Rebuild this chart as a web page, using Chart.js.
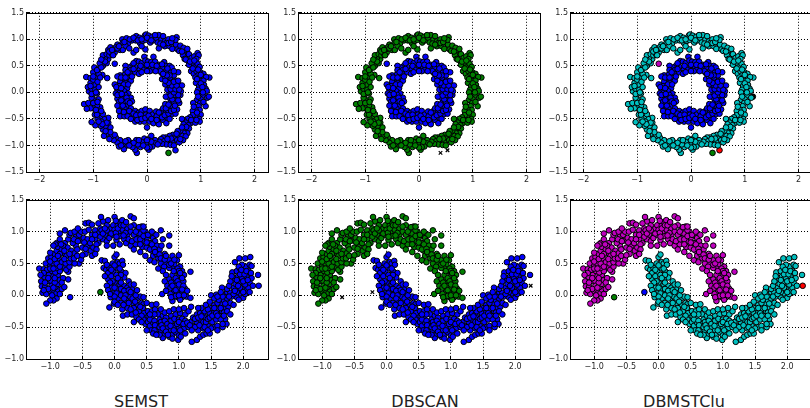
<!DOCTYPE html>
<html><head><meta charset="utf-8">
<script src="https://cdn.jsdelivr.net/npm/chart.js@4"></script>
<style>
html,body{margin:0;padding:0;background:#fff;width:810px;height:408px;overflow:hidden}
canvas{position:absolute}
.t{position:absolute;top:392px;font:16px/19px "DejaVu Sans",sans-serif;color:#222;transform:translateX(-50%);white-space:nowrap}
</style></head><body>
<div class="t" style="left:141px">SEMST</div>
<div class="t" style="left:425px">DBSCAN</div>
<div class="t" style="left:684px">DBMSTClu</div>
<script>
const ringOuter=[[-0.46,1.0],[-0.45,0.94],[-0.38,1.02],[-0.35,0.93],[-0.28,0.98],[-0.2,1.06],[-0.21,0.98],[-0.14,1.03],[-0.13,0.93],[-0.08,0.97],[-0.04,1.07],[-0.02,1.09],[-0.03,0.99],[0.03,1.07],[0.05,1.0],[0.06,0.94],[0.1,1.05],[0.12,0.98],[0.17,1.03],[0.2,0.94],[0.22,1.08],[0.27,1.0],[0.3,1.06],[0.33,0.96],[0.33,0.87],[0.36,0.93],[0.4,1.0],[0.42,0.87],[0.47,0.82],[0.5,0.95],[0.55,1.04],[0.54,0.9],[0.57,0.81],[0.53,0.99],[-0.25,0.75],[-0.2,0.8],[-0.03,0.81],[-0.1,0.87],[0.22,0.83],
[0.62,0.88],[0.68,0.84],[0.7,0.76],[0.72,0.7],[0.75,0.82],[0.78,0.72],[0.67,0.7],[0.7,0.63],[0.76,0.6],[0.83,0.65],[0.88,0.68],[0.94,0.74],[0.96,0.7],[0.92,0.63],[0.85,0.55],[0.78,0.52],[0.88,0.47],[0.94,0.54],[0.98,0.48],[0.82,0.4],[0.87,0.35],[0.92,0.4],[0.99,0.38],[1.05,0.35],[0.95,0.32],[0.9,0.28],[1.03,0.28],[1.16,0.28],[1.1,0.29],[0.98,0.22],[0.91,0.18],[0.97,0.12],[1.05,0.22],[1.06,0.14],[1.09,0.07],[1.11,0.03],[1.02,0.05],[0.95,0.05],[0.99,-0.02],[1.05,-0.05],[1.12,-0.1],
[0.93,-0.14],[1.0,-0.13],[0.99,-0.2],[0.96,-0.26],[1.09,-0.26],[0.86,-0.2],[0.98,-0.33],[0.9,-0.32],[0.85,-0.35],[1.0,-0.42],[0.92,-0.45],[0.85,-0.43],[0.97,-0.5],[0.88,-0.53],[0.8,-0.47],[0.75,-0.5],[0.68,-0.52],[0.65,-0.5],[0.98,-0.55],[0.72,-0.57],[0.81,-0.58],[0.9,-0.57],[0.77,-0.62],[0.68,-0.6],[0.7,-0.68],[0.78,-0.68],[0.75,-0.77],[0.68,-0.76],[0.62,-0.72],[0.57,-0.73],[0.54,-0.79],[0.6,-0.83],[0.66,-0.82],[0.72,-0.83],[0.48,-0.8],[0.42,-0.82],[0.5,-0.87],[0.56,-0.9],[0.67,-0.9],[0.6,-0.94],[0.35,-0.85],[0.3,-0.85],[0.26,-0.88],[0.32,-0.92],[0.4,-0.9],[0.47,-0.94],[0.36,-0.98],[0.28,-0.97],[0.23,-0.93],[0.44,-0.99],[0.5,-1.0],[0.15,-0.9],[0.08,-0.82],[0.15,-0.96],[0.1,-1.02],[0.03,-0.9],[-0.02,-0.97],[0.03,-1.08],[0.05,-1.03],[0,-1.04],[-0.05,-0.87],[-0.1,-0.93],[-0.12,-1.03],[-0.17,-0.98],[-0.2,-0.9],[-0.19,-1.14],[-0.22,-1.08],[-0.27,-1.03],[-0.3,-0.95],[-0.35,-0.9],[-0.38,-1.0],[-0.43,-1.07],[-0.45,-0.97],[-0.5,-0.9],[-0.55,-0.95],[-0.52,-1.02],[-0.58,-0.85],[-0.62,-0.9],[-0.65,-0.82],[-0.7,-0.88],[-0.75,-0.78],[-0.8,-0.82],[-0.82,-0.7],[-0.72,-0.72],[-0.68,-0.66],[-0.77,-0.63],[-0.86,-0.63],[-0.72,-0.57],[-0.72,-0.48],[-0.8,-0.5],[-0.85,-0.55],[-0.96,-0.62],[-1.03,-0.56],[-0.87,-0.45],[-0.92,-0.5],[-0.82,-0.41],[-0.9,-0.35],[-0.97,-0.42],[-0.87,-0.28],[-0.93,-0.25],[-1.0,-0.3],[-1.05,-0.3],[-1.12,-0.31],[-1.17,-0.22],[-1.09,-0.2],[-0.97,-0.15],[-0.9,-0.13],[-1.03,-0.1],[-1.0,-0.03],[-0.93,-0.02],[-1.08,0.02],[-1.1,0.1],[-1.03,0.07],[-0.96,0.05],[-0.9,0.1],[-0.98,0.15],[-1.05,0.18],[-1.13,0.29],[-1.05,0.27],[-1.0,0.24],[-0.92,0.2],[-0.95,0.3],[-0.74,0.27],[-0.83,0.33],[-0.9,0.35],[-1.0,0.38],[-0.98,0.47],[-0.9,0.45],[-0.82,0.5],[-0.88,0.55],[-0.8,0.6],[-0.75,0.55],[-0.72,0.63],[-0.78,0.66],[-0.82,0.7],[-0.75,0.72],[-0.7,0.7],[-0.65,0.72],[-0.6,0.75],[-0.72,0.8],[-0.68,0.85],[-0.6,0.82],[-0.55,0.9],[-0.58,0.85],[-0.5,0.8],[-0.45,0.8],[-0.4,0.88],[-0.33,0.83],
[-0.55,0.83],[-0.42,0.95],[-0.32,1.0],[-0.25,1.03],[-0.17,0.98],[-0.1,1.0],[0.0,1.03],[0.08,0.98],[0.15,1.08],[0.25,0.92],[0.3,0.9],[0.4,0.93],[0.45,0.95],[0.47,1.02],[0.6,0.78],[0.65,0.77],[0.72,0.62],[0.8,0.58],[0.88,0.6],[0.85,0.45],[0.95,0.43],[1.0,0.33],[0.93,0.25],[1.0,0.17],[1.03,0.1],[0.93,0.0],[1.04,0.0],[0.95,-0.08],[1.05,-0.18],[0.93,-0.38],[0.87,-0.27],[0.82,-0.52],[0.92,-0.52],[0.73,-0.65],[0.65,-0.66],[0.55,-0.78],[0.45,-0.87],[0.62,-0.88],[0.38,-0.88],[0.2,-0.98],[0.08,-0.93],[0.0,-0.9],[-0.07,-1.0],[-0.15,-0.9],[-0.25,-0.95],[-0.33,-1.0],[-0.4,-0.92],[-0.48,-1.0],[-0.6,-0.8],[-0.68,-0.75],[-0.77,-0.73],[-0.75,-0.57],[-0.83,-0.6],[-0.9,-0.55],[-0.93,-0.42],[-0.85,-0.35],[-0.95,-0.33],[-1.0,-0.2],[-0.92,-0.18],[-1.03,-0.03],[-0.95,0.0],[-1.05,0.12],[-1.0,0.3],[-0.87,0.28],[-0.93,0.42],[-0.85,0.47],[-0.78,0.58],[-0.85,0.62],[-0.7,0.77],[-0.63,0.7],[-0.65,0.8],[-0.52,0.87]];
const ringInner=[[-0.05,0.67],[0.12,0.67],[-0.2,0.59],[-0.15,0.58],[-0.1,0.55],[-0.03,0.6],[0.02,0.58],[0.08,0.57],[0.15,0.58],[0.22,0.52],[0.32,0.57],[0.35,0.5],[0.28,0.47],[0.42,0.5],[0.46,0.47],[0.2,0.45],[0.12,0.47],[0.05,0.47],[-0.02,0.45],[-0.08,0.43],[-0.15,0.46],[-0.22,0.48],[-0.28,0.5],[-0.34,0.47],[-0.4,0.5],[-0.4,0.42],[-0.3,0.42],[-0.22,0.38],[-0.15,0.35],[-0.32,0.35],[-0.42,0.33],[-0.5,0.32],[-0.55,0.3],[-0.45,0.25],[-0.35,0.27],[-0.3,0.22],[-0.5,0.2],[-0.4,0.18],[-0.52,0.12],[-0.6,0.15],[-0.45,0.1],[-0.37,0.08],[-0.55,0.05],[-0.58,-0.02],[-0.5,0],[-0.42,0.02],[-0.35,-0.02],[-0.5,-0.08],[-0.55,-0.12],[-0.45,-0.12],[-0.3,-0.1],[-0.52,-0.18],[-0.43,-0.2],[-0.28,-0.17],[-0.36,-0.25],[-0.5,-0.28],[-0.55,-0.25],[-0.42,-0.3],[-0.3,-0.3],[-0.48,-0.38],[-0.38,-0.37],[-0.5,-0.45],[-0.42,-0.45],[-0.3,-0.42],[-0.22,-0.35],[-0.15,-0.38],[-0.25,-0.48],[-0.17,-0.45],[-0.1,-0.35],[-0.03,-0.32],[-0.08,-0.45],[-0.02,-0.42],[0.05,-0.35],[0.02,-0.5],[-0.22,-0.55],[-0.13,-0.55],[-0.05,-0.55],[0.05,-0.55],[0,-0.66],[0.1,-0.42],[0.17,-0.36],[0.12,-0.5],[0.12,-0.58],[0.2,-0.55],[0.25,-0.45],[0.27,-0.35],[0.3,-0.3],[0.34,-0.22],[0.35,-0.38],[0.3,-0.52],[0.22,-0.6],[0.36,-0.58],[0.38,-0.48],[0.45,-0.42],[0.42,-0.3],[0.48,-0.28],[0.53,-0.4],[0.44,-0.18],[0.5,-0.18],[0.56,-0.32],[0.6,-0.2],[0.55,-0.12],[0.62,-0.05],[0.48,-0.08],[0.42,-0.1],[0.55,0],[0.63,0.02],[0.42,-0.02],[0.35,-0.08],[0.48,0.05],[0.57,0.08],[0.38,0.05],[0.42,0.12],[0.5,0.14],[0.58,0.15],[0.65,0.13],[0.34,0.15],[0.44,0.2],[0.53,0.22],[0.38,0.24],[0.28,0.25],[0.33,0.3],[0.43,0.28],[0.5,0.32],[0.58,0.38],[0.43,0.37],[0.35,0.38],[0.27,0.37],[0.1,0.42],[0.05,0.4],
[-0.25,0.55],[-0.12,0.5],[0.0,0.52],[0.1,0.52],[0.18,0.5],[0.28,0.53],[0.25,0.4],[0.38,0.45],[0.16,0.4],[0.0,0.4],[-0.1,0.38],[-0.25,0.44],[-0.36,0.38],[-0.48,0.28],[-0.4,0.28],[-0.28,0.3],[-0.43,0.15],[-0.35,0.15],[-0.57,0.1],[-0.48,0.08],[-0.4,-0.05],[-0.55,-0.05],[-0.47,-0.03],[-0.38,-0.1],[-0.48,-0.15],[-0.36,-0.17],[-0.45,-0.25],[-0.32,-0.2],[-0.52,-0.35],[-0.43,-0.37],[-0.33,-0.35],[-0.36,-0.45],[-0.25,-0.4],[-0.2,-0.43],[-0.3,-0.5],[-0.12,-0.42],[-0.18,-0.52],[-0.1,-0.5],[-0.03,-0.48],[0.03,-0.44],[0.08,-0.5],[0.18,-0.45],[0.22,-0.38],[0.18,-0.52],[0.28,-0.47],[0.33,-0.43],[0.4,-0.4],[0.38,-0.33],[0.35,-0.3],[0.45,-0.35],[0.5,-0.33],[0.42,-0.5],[0.4,-0.23],[0.52,-0.25],[0.58,-0.15],[0.47,-0.13],[0.52,-0.05],[0.44,-0.06],[0.58,-0.05],[0.5,0.0],[0.44,0.06],[0.53,0.06],[0.6,0.05],[0.46,0.13],[0.55,0.13],[0.4,0.18],[0.5,0.2],[0.58,0.22],[0.34,0.22],[0.42,0.32],[0.37,0.32],[0.3,0.35],[0.5,0.4]];
const ringSingleA=[[-0.6,0.54]];
const ringSingleB=[[1.15,-0.08]];
const ringSingleC=[[0.4,-1.14]];
const ringSingleD=[[0.53,-1.09]];
const moonUpper=[[-1.17,0.42],[-1.1,0.41],[-1.14,0.22],[-1.13,0.14],[-1.12,0.04],[-1.06,0.02],[-1.08,0.13],[-1.04,0.22],[-1.09,0.29],[-1.02,0.32],[-1.05,0.4],[-1.07,0.5],[-1.03,0.58],[-1.0,0.46],[-0.97,0.38],[-0.95,0.3],[-0.98,0.22],[-0.98,0.15],[-1.0,0.07],[-0.95,0.03],[-0.9,-0.05],[-0.95,-0.08],[-1.0,-0.08],[-0.97,0.0],[-1.06,-0.13],[-0.9,0.04],[-0.88,0.09],[-0.92,0.13],[-0.88,0.18],[-0.85,0.24],[-0.8,0.27],[-0.82,0.2],[-0.88,0.32],[-0.92,0.36],[-0.85,0.38],[-0.9,0.43],[-0.95,0.5],[-0.98,0.6],[-0.93,0.65],[-0.87,0.58],[-0.9,0.7],[-0.82,0.52],[-0.77,0.43],[-0.72,0.37],[-0.75,0.4],[-0.7,0.45],[-0.76,0.5],[-0.7,0.52],[-0.68,0.58],[-0.75,0.62],[-0.82,0.66],[-0.88,0.76],[-0.9,0.82],[-0.92,0.8],[-0.82,0.72],[-0.85,0.88],[-0.77,0.82],[-0.72,0.88],[-0.73,0.75],[-0.67,0.7],[-0.62,0.66],[-0.55,0.5],[-0.52,0.56],[-0.6,0.78],[-0.7,0.95],[-0.77,1.02],[-0.68,0.98],[-0.6,0.92],[-0.55,0.95],[-0.52,0.86],[-0.5,0.75],[-0.45,0.65],[-0.42,0.78],[-0.37,0.7],[-0.33,0.75],[-0.48,0.9],[-0.42,0.88],[-0.52,1.0],[-0.46,1.0],[-0.45,1.13],[-0.4,1.14],[-0.35,1.11],[-0.4,1.03],[-0.35,0.95],[-0.3,0.88],[-0.25,0.82],[-0.3,1.02],[-0.25,0.97],[-0.22,1.05],[-0.2,1.02],[-0.18,1.16],[-0.21,1.23],[-0.12,1.1],[-0.15,0.95],[-0.18,0.88],[-0.12,0.85],[-0.08,0.9],[-0.08,1.0],[-0.05,1.05],[-0.02,1.1],[0.0,1.23],[-0.02,0.95],[0.03,0.87],[0.05,1.1],[0.08,1.15],[0.12,1.18],[0.12,1.03],[0.06,0.98],[0.1,0.93],[0.15,0.88],[0.18,0.82],[0.25,0.78],[0.2,0.95],[0.2,1.05],[0.25,1.24],[0.3,1.21],[0.3,1.1],[0.25,1.0],[0.3,0.95],[0.33,0.8],[0.37,0.9],[0.35,1.02],[0.4,0.97],[0.42,1.08],[0.38,1.07],[0.44,0.85],[0.48,1.0],[0.5,0.9],[0.43,0.76],[0.5,0.75],[0.55,0.95],[0.55,0.82],[0.58,0.7],[0.6,0.9],[0.63,0.85],[0.6,0.62],[0.66,0.78],[0.7,0.72],[0.65,0.65],[0.72,1.02],[0.68,0.58],[0.72,0.5],[0.78,0.65],[0.85,0.94],[0.85,0.78],[0.75,0.58],[0.8,0.5],[0.85,0.55],[0.9,0.62],[0.97,0.55],[0.93,0.48],[1.0,0.63],[0.9,0.42],[0.85,0.43],[0.95,0.38],[1.02,0.45],[1.05,0.38],[1.18,0.37],[1.08,0.32],[1.0,0.3],[0.9,0.32],[0.85,0.25],[0.92,0.22],[0.82,0.15],[0.87,0.12],[0.95,0.15],[1.03,0.2],[1.07,0.22],[1.1,0.1],[1.13,0.07],[1.0,0.1],[0.92,0.05],[0.98,0.03],[1.05,0.03],[1.12,-0.02],[1.18,-0.04],[1.05,-0.03],[0.98,-0.03],[0.74,0.02],[0.9,-0.09],[1.02,-0.07],
[-1.1,0.35],[-1.03,0.27],[-1.08,0.2],[-1.03,0.1],[-1.1,0.08],[-0.93,0.2],[-0.95,0.12],[-0.93,0.27],[-1.0,0.42],[-0.95,0.42],[-1.0,0.53],[-0.9,0.5],[-0.85,0.45],[-0.93,0.57],[-0.85,0.65],[-0.88,0.62],[-0.78,0.57],[-0.8,0.78],[-0.78,0.7],[-0.83,0.8],[-0.7,0.65],[-0.65,0.82],[-0.63,0.88],[-0.58,0.72],[-0.57,0.85],[-0.47,0.83],[-0.45,0.73],[-0.38,0.82],[-0.35,0.88],[-0.3,0.95],[-0.28,0.8],[-0.22,0.92],[-0.18,0.97],[-0.12,1.02],[-0.15,1.05],[-0.05,0.97],[0.0,1.03],[0.02,0.98],[0.05,1.05],[0.03,0.92],[0.1,1.1],[0.14,1.1],[0.17,0.98],[0.14,0.94],[0.22,0.88],[0.27,0.85],[0.25,1.08],[0.33,1.0],[0.34,0.88],[0.4,0.88],[0.4,0.8],[0.45,0.93],[0.45,1.02],[0.5,0.83],[0.52,0.95],[0.55,0.72],[0.58,0.8],[0.62,0.73],[0.63,0.68],[0.7,0.64],[0.73,0.78],[0.72,0.58],[0.78,0.56],[0.8,0.62],[0.85,0.48],[0.88,0.5],[0.93,0.56],[0.77,0.45],[0.98,0.42],[1.0,0.38],[0.92,0.38],[1.02,0.35],[1.05,0.27],[0.95,0.27],[0.88,0.2],[0.98,0.22],[0.9,0.15],[1.0,0.17],[1.07,0.15],[0.95,0.08],[1.05,0.09],[0.87,0.02],[0.95,-0.01],[1.0,0.0],[1.08,0.0],
[-0.62,0.5],[-0.63,0.58],[-0.58,0.62],[-0.5,0.63],[-0.35,0.62],[-0.28,0.72],[-0.3,0.65],[-0.12,0.78],[-0.02,0.78],[0.08,0.8],[0.3,0.72],[0.4,0.68],[0.48,0.62],[0.55,0.55],[0.62,0.52],[0.68,0.42],[0.75,0.38],[0.8,0.32],[0.8,0.07],[0.78,0.22],[0.88,-0.03],[-0.82,0.1],[-0.85,0.02],[-0.72,0.25],[-0.78,0.13],[-1.15,0.32],[-1.0,0.67],[-0.95,0.78],[-0.85,0.97],[-0.62,1.0],[-0.57,1.05],[-0.25,1.13],[-0.1,1.18],[0.02,1.17],[0.18,1.15],[0.45,1.08],[0.58,1.0],[0.65,0.95],[0.75,0.88]];
const moonLower=[[-0.2,0.55],[-0.15,0.54],[-0.17,0.43],[-0.13,0.4],[-0.08,0.43],[-0.03,0.5],[0.0,0.6],[0.03,0.64],[0.05,0.52],[0.08,0.5],[0.12,0.54],[0.13,0.48],[0.05,0.42],[-0.02,0.37],[-0.1,0.35],[-0.1,0.25],[-0.05,0.3],[0.03,0.32],[0.1,0.38],[0.17,0.35],[0.15,0.28],[0.08,0.25],[0.0,0.2],[-0.05,0.12],[-0.02,0.03],[0.03,0.1],[0.08,0.17],[0.15,0.15],[0.22,0.22],[0.2,0.12],[0.12,0.05],[0.07,0.0],[-0.08,-0.19],[-0.01,-0.13],[-0.06,-0.03],[0.05,-0.05],[0.13,-0.02],[0.2,0.05],[0.27,0.1],[0.3,0.03],[0.24,-0.02],[0.18,-0.08],[0.1,-0.12],[0.2,-0.2],[0.28,-0.12],[0.35,-0.05],[0.4,-0.02],[0.36,-0.15],[0.3,-0.2],[0.42,-0.12],[0.45,-0.14],[0.13,-0.32],[0.2,-0.3],[0.27,-0.3],[0.3,-0.42],[0.34,-0.34],[0.38,-0.25],[0.44,-0.2],[0.46,-0.28],[0.52,-0.25],[0.58,-0.25],[0.63,-0.22],[0.68,-0.3],[0.5,-0.35],[0.45,-0.38],[0.48,-0.45],[0.52,-0.42],[0.58,-0.35],[0.62,-0.3],[0.7,-0.38],[0.75,-0.32],[0.8,-0.35],[0.88,-0.32],[0.95,-0.3],[1.02,-0.28],[1.1,-0.3],[1.15,-0.25],[1.19,-0.18],[0.55,-0.48],[0.6,-0.43],[0.57,-0.55],[0.65,-0.5],[0.68,-0.45],[0.72,-0.42],[0.78,-0.4],[0.82,-0.45],[0.88,-0.4],[0.93,-0.37],[1.0,-0.38],[1.05,-0.37],[1.1,-0.4],[0.68,-0.6],[0.72,-0.55],[0.75,-0.67],[0.78,-0.6],[0.82,-0.52],[0.88,-0.55],[0.93,-0.48],[1.0,-0.5],[1.05,-0.45],[1.08,-0.52],[0.85,-0.65],[0.9,-0.62],[0.95,-0.58],[1.0,-0.63],[1.05,-0.58],[0.99,-0.7],[1.03,-0.65],[1.15,-0.5],[1.18,-0.42],[1.22,-0.35],[1.28,-0.3],[1.33,-0.28],[1.38,-0.3],[1.22,-0.48],[1.28,-0.42],[1.33,-0.38],[1.38,-0.42],[1.42,-0.35],[1.48,-0.28],[1.5,-0.2],[1.55,-0.15],[1.2,-0.73],[1.28,-0.7],[1.33,-0.65],[1.38,-0.62],[1.43,-0.6],[1.48,-0.6],[1.3,-0.55],[1.38,-0.52],[1.45,-0.48],[1.52,-0.42],[1.58,-0.38],[1.62,-0.3],[1.67,-0.25],[1.72,-0.2],[1.77,-0.18],[1.55,-0.5],[1.6,-0.48],[1.68,-0.5],[1.74,-0.45],[1.72,-0.37],[1.65,-0.38],[1.6,-0.22],[1.55,-0.27],[1.65,-0.13],[1.7,-0.08],[1.75,-0.05],[1.8,-0.12],[1.5,0],[1.58,0.01],[1.67,0.12],[1.7,0.0],[1.75,0.05],[1.8,0.04],[1.85,0.12],[1.82,-0.02],[1.9,-0.03],[1.95,0.03],[2.0,-0.04],[2.03,0.02],[1.9,0.05],[1.98,0.1],[2.05,0.08],[2.08,0.12],[1.88,0.18],[1.95,0.2],[2.03,0.17],[2.1,0.2],[1.85,0.27],[1.83,0.36],[1.92,0.3],[1.98,0.28],[2.05,0.3],[2.13,0.27],[1.9,0.38],[1.95,0.42],[2.0,0.37],[2.08,0.38],[2.04,0.45],[1.98,0.48],[1.93,0.45],[2.1,0.48],[2.13,0.46],[1.87,0.52],[1.94,0.58],[2.03,0.58],[2.11,0.6],[2.23,0.32],
[-0.12,0.48],[-0.05,0.4],[0.0,0.47],[0.08,0.42],[0.1,0.32],[0.05,0.27],[-0.03,0.22],[-0.07,0.2],[0.1,0.2],[0.0,0.12],[0.1,0.1],[0.15,0.07],[0.03,0.03],[0.0,-0.02],[0.1,0.0],[0.17,0.0],[0.22,0.08],[0.25,0.05],[0.15,-0.05],[0.22,-0.12],[0.28,-0.05],[0.33,0.0],[0.32,-0.1],[0.25,-0.22],[0.33,-0.27],[0.4,-0.18],[0.42,-0.32],[0.38,-0.38],[0.53,-0.33],[0.55,-0.38],[0.55,-0.3],[0.62,-0.4],[0.63,-0.47],[0.7,-0.5],[0.73,-0.47],[0.62,-0.55],[0.7,-0.62],[0.75,-0.52],[0.8,-0.57],[0.83,-0.62],[0.87,-0.48],[0.92,-0.55],[0.97,-0.45],[1.02,-0.55],[1.0,-0.42],[1.07,-0.45],[1.13,-0.43],[1.17,-0.47],[1.25,-0.37],[1.3,-0.35],[1.25,-0.5],[1.32,-0.47],[1.35,-0.33],[1.42,-0.42],[1.45,-0.37],[1.4,-0.25],[1.45,-0.22],[1.48,-0.35],[1.52,-0.32],[1.58,-0.28],[1.6,-0.32],[1.55,-0.2],[1.6,-0.12],[1.65,-0.2],[1.7,-0.27],[1.62,-0.07],[1.68,-0.02],[1.72,-0.13],[1.75,-0.25],[1.7,-0.32],[1.78,-0.02],[1.85,0.02],[1.93,-0.07],[1.87,0.07],[1.95,0.12],[2.0,0.05],[1.92,0.15],[2.0,0.22],[2.07,0.24],[1.9,0.24],[1.95,0.33],[2.02,0.33],[1.97,0.4],[2.05,0.38],[1.4,-0.5],[1.5,-0.52],
[-0.15,0.3],[-0.12,0.15],[-0.1,0.08],[-0.07,0.02],[0.0,-0.1],[0.05,-0.15],[0.12,-0.22],[0.14,-0.15],[0.25,0.17],[0.3,0.17],[0.35,0.08],[0.45,-0.03],[0.5,-0.12],[0.58,-0.15],[0.65,-0.14],[0.72,-0.22],[0.78,-0.27],[0.85,-0.25],[0.92,-0.22],[1.0,-0.22],[1.08,-0.2],[0.42,-0.42],[0.5,-0.55],[0.6,-0.6],[0.65,-0.62],[0.9,-0.68],[1.1,-0.6],[1.2,-0.55],[1.35,-0.2],[1.42,-0.15],[1.3,-0.2],[1.48,-0.1],[1.55,-0.05],[1.65,0.05],[1.6,-0.02],[1.75,0.1],[1.78,0.15],[1.8,0.22],[1.82,0.3],[2.12,0.35],[2.15,0.15],[2.1,0.05],[1.6,-0.55],[1.68,-0.45],[1.8,-0.3],[1.85,-0.15],[1.45,-0.55]];
const moonSingleA=[[-0.69,-0.03]];
const moonSingleB=[[-0.22,0.05]];
const moonSingleC=[[2.24,0.15]];
const ringXTicks=[-2,-1,0,1,2];
const ringYTicks=[-1.5,-1,-0.5,0,0.5,1,1.5];
const moonXTicks=[-1,-0.5,0,0.5,1,1.5,2];
const moonYTicks=[-1,-0.5,0,0.5,1,1.5];

const BLUE='#0000ff',GREEN='#007f00',CYAN='#00bfbf',MAG='#bf00bf',RED='#ff0000',BLK='#000000';
const pts=a=>a.map(p=>({x:p[0],y:p[1]}));
const dot=(data,color)=>({data:pts(data),backgroundColor:color,borderColor:'#000',borderWidth:1,pointRadius:2.8,pointHoverRadius:2.8,pointStyle:'circle',showLine:false});
const cross=(data)=>({data:pts(data),backgroundColor:'#000',borderColor:'#000',borderWidth:1.2,pointRadius:2.5,pointStyle:'crossRot',showLine:false});
const fmt=(v,dec)=>{const s=Math.abs(v).toFixed(dec);return (v<0?'\u2212':'')+s;};
const frame={id:'frame',afterDraw(c){const a=c.chartArea,x=c.ctx;x.save();x.strokeStyle='#000';x.lineWidth=1;x.setLineDash([]);
  x.strokeRect(Math.round(a.left)+.5,Math.round(a.top)+.5,Math.round(a.right-a.left),Math.round(a.bottom-a.top));x.restore();}};
function axis(min,max,ticks,dec,isY){return {type:'linear',min,max,
  afterBuildTicks:s=>{s.ticks=ticks.map(v=>({value:v}));},
  afterFit:s=>{if(isY)s.width=27;else s.height=14;},
  grid:{color:'#000',lineWidth:1,tickLength:-3,tickColor:'#000',tickBorderDash:[],drawTicks:true},
  border:{display:false,dash:[1,2]},
  ticks:{autoSkip:false,maxRotation:0,padding:isY?5:6,color:'#262626',font:{family:'"DejaVu Sans"',size:8},callback:v=>fmt(v,dec)}};}
function panel(left,top,w,h,xr,yr,xt,yt,xdec,datasets){
  const c=document.createElement('canvas');
  const W=w+27+10,H=h+8+16;
  c.width=W;c.height=H;c.style.left=(left-27)+'px';c.style.top=(top-8)+'px';c.style.width=W+'px';c.style.height=H+'px';
  document.body.appendChild(c);
  const ch=new Chart(c,{type:'scatter',data:{datasets},plugins:[frame],options:{responsive:false,animation:false,
    layout:{padding:{top:4,right:6,left:0,bottom:0}},
    plugins:{legend:{display:false},tooltip:{enabled:false}},
    scales:{x:axis(xr[0],xr[1],xt,xdec,false),y:axis(yr[0],yr[1],yt,1,true)}}});
  const a=ch.chartArea,p=ch.options.layout.padding;
  p.top+=8-a.top;p.left+=27-a.left;p.right+=a.right-(27+w);p.bottom+=a.bottom-(8+h);
  ch.update();
}
const RX=[-2.25,2.25],RY=[-1.5,1.5],MX=[-1.376,2.385],MY=[-1,1.5];
const ringAll=[...ringOuter,...ringInner,...ringSingleA,...ringSingleB,...ringSingleD];
const moonAll=[...moonUpper,...moonLower,...moonSingleA,...moonSingleC];
panel(26,11,242,161,RX,RY,ringXTicks,ringYTicks,0,[dot(ringAll,BLUE),dot(ringSingleC,GREEN)]);
panel(298,11,242,161,RX,RY,ringXTicks,ringYTicks,0,[dot([...ringOuter,...ringSingleB],GREEN),dot([...ringInner,...ringSingleA],BLUE),cross(ringSingleC),cross(ringSingleD)]);
panel(570,11,242,161,RX,RY,ringXTicks,ringYTicks,0,[dot(ringOuter,CYAN),dot(ringInner,BLUE),dot(ringSingleA,MAG),dot(ringSingleB,BLK),dot(ringSingleC,GREEN),dot(ringSingleD,RED)]);
panel(26,198,242,161,MX,MY,moonXTicks,moonYTicks,1,[dot(moonAll,BLUE),dot(moonSingleB,GREEN)]);
panel(298,198,242,161,MX,MY,moonXTicks,moonYTicks,1,[dot(moonUpper,GREEN),dot(moonLower,BLUE),cross(moonSingleA),cross(moonSingleB),cross(moonSingleC)]);
panel(570,198,242,161,MX,MY,moonXTicks,moonYTicks,1,[dot(moonUpper,MAG),dot(moonLower,CYAN),dot(moonSingleA,GREEN),dot(moonSingleB,BLUE),dot(moonSingleC,RED)]);
</script>
</body></html>
